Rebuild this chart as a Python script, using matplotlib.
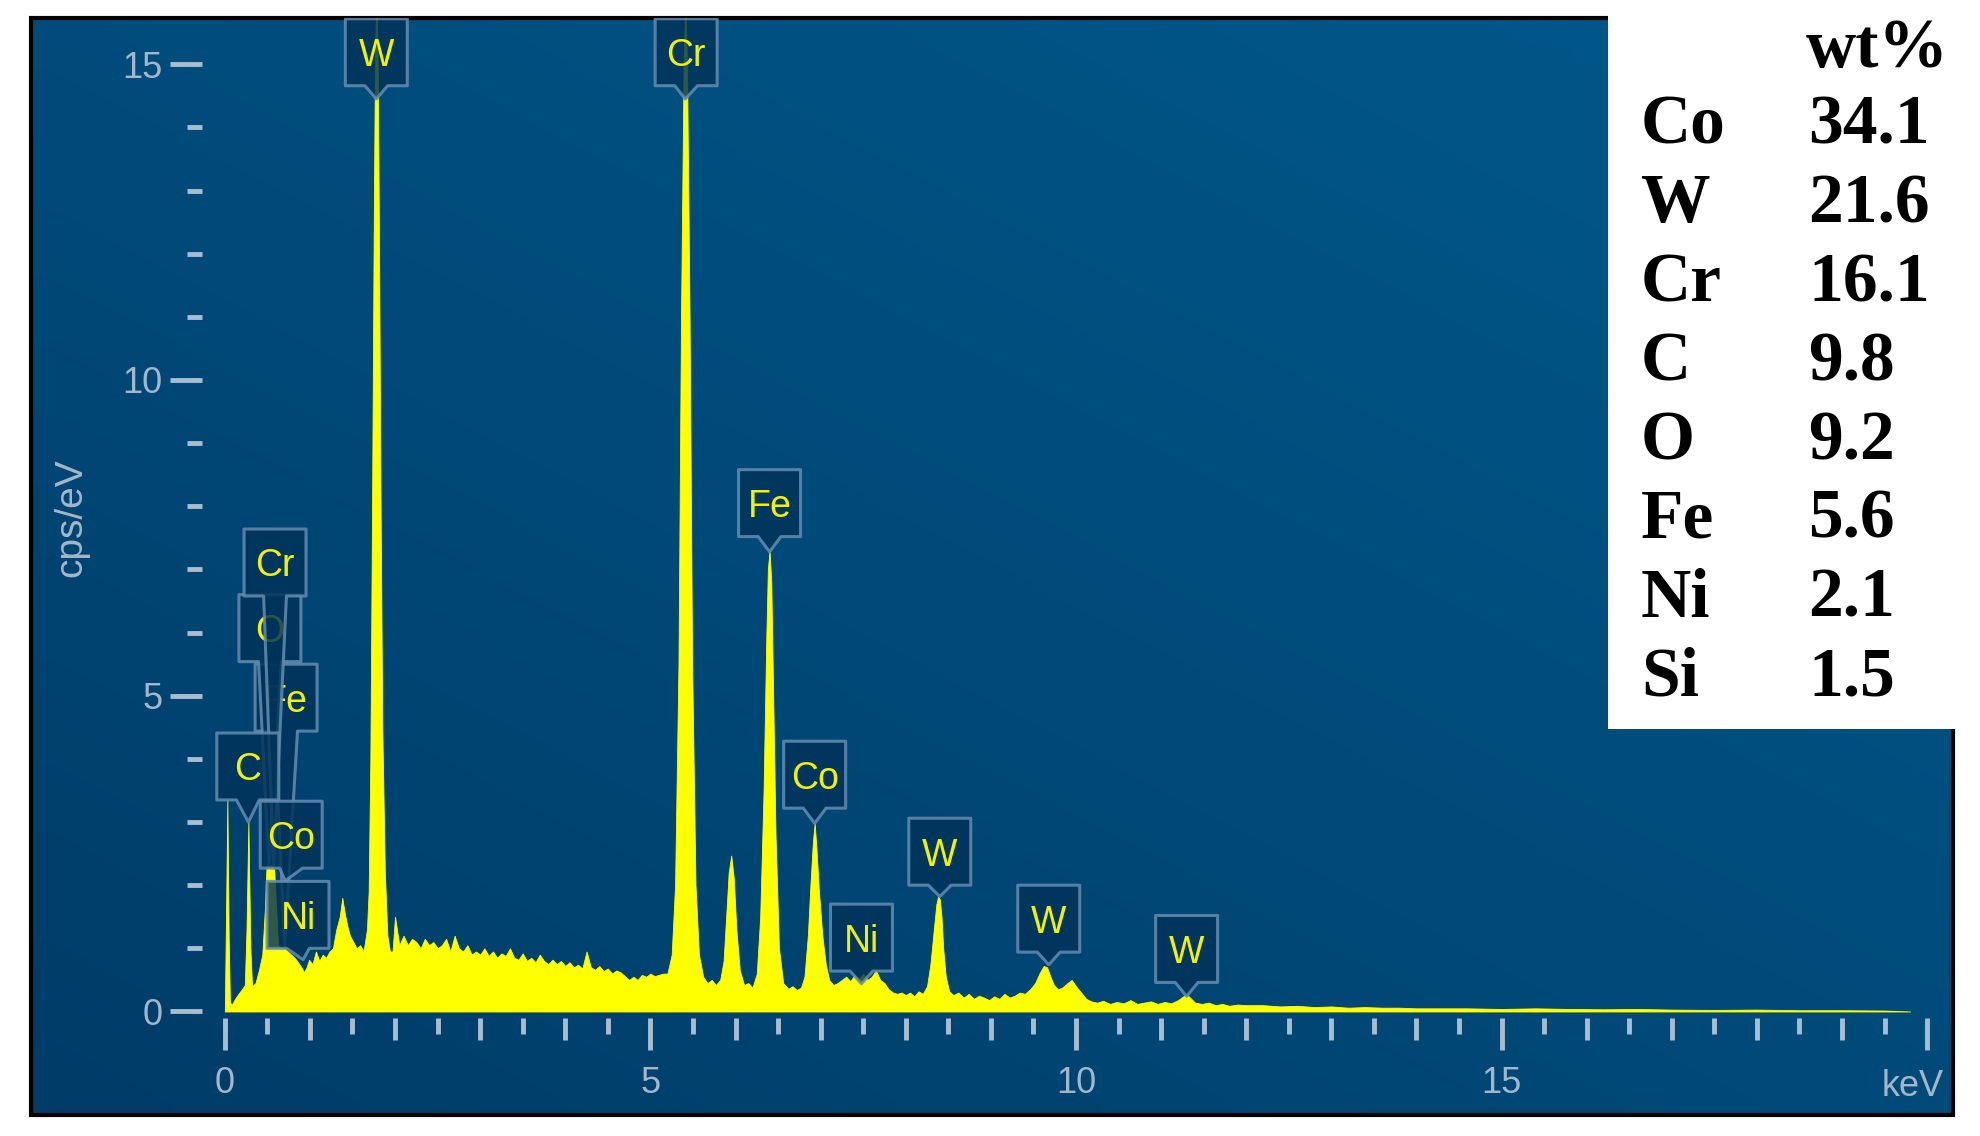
import numpy as np
import matplotlib
matplotlib.use("Agg")
import matplotlib.pyplot as plt
from matplotlib.patches import Polygon, Rectangle

# EDS spectrum, in segments (keV, cps/eV)
low_kev = [0.00, 0.015, 0.03, 0.045, 0.06, 0.08, 0.12, 0.16, 0.20, 0.235,
           0.255, 0.277, 0.30, 0.32, 0.36, 0.40, 0.44, 0.47, 0.49, 0.52,
           0.55, 0.58, 0.605, 0.625, 0.66, 0.70, 0.74, 0.78, 0.82, 0.86,
           0.90, 0.93, 0.96, 0.99, 1.03, 1.07, 1.11, 1.15, 1.19, 1.23,
           1.27, 1.31, 1.35, 1.38, 1.41, 1.44, 1.47, 1.51, 1.55, 1.59,
           1.63, 1.67, 1.69]
low_cps = [0.0, 1.6, 3.35, 1.2, 0.15, 0.1, 0.2, 0.28, 0.35, 0.42,
           1.3, 3.0, 1.0, 0.4, 0.45, 0.65, 0.9, 1.6, 2.3, 2.3,
           2.3, 2.25, 1.6, 1.05, 1.0, 1.0, 0.95, 0.9, 0.85, 0.78,
           0.7, 0.62, 0.7, 0.82, 0.75, 0.95, 0.8, 0.9, 0.85, 0.95,
           1.0, 1.3, 1.5, 1.8, 1.55, 1.35, 1.2, 1.1, 1.0, 1.05,
           0.95, 1.3, 1.9]

wma_kev = [1.71, 1.73, 1.75, 1.765, 1.78, 1.795, 1.81, 1.83, 1.85, 1.88, 1.91, 1.94]
wma_cps = [4.0, 8.0, 12.5, 15.2, 16.0, 15.2, 12.5, 8.0, 4.5, 2.2, 1.2, 0.95]

mid_kev = [1.97, 2.00, 2.05, 2.10, 2.15, 2.20, 2.25, 2.30, 2.35, 2.40,
           2.45, 2.50, 2.55, 2.60, 2.65, 2.70, 2.75, 2.80, 2.85, 2.90,
           2.95, 3.00, 3.05, 3.10, 3.15, 3.20, 3.25, 3.30, 3.35, 3.40,
           3.45, 3.50, 3.55, 3.60, 3.65, 3.70, 3.75, 3.80, 3.85, 3.90,
           3.95, 4.00, 4.05, 4.10, 4.15, 4.20, 4.25, 4.30, 4.35, 4.40,
           4.45, 4.50, 4.55, 4.60, 4.65, 4.70, 4.75, 4.80, 4.85, 4.90,
           4.95, 5.00, 5.05, 5.10, 5.15]
mid_cps = [0.95, 1.5, 1.05, 1.2, 1.05, 1.15, 1.1, 1.0, 1.15, 1.05,
           1.1, 1.0, 1.05, 1.15, 0.95, 1.2, 1.0, 0.95, 1.05, 0.9,
           0.95, 0.9, 1.0, 0.88, 0.95, 0.85, 0.92, 0.88, 1.0, 0.85,
           0.82, 0.92, 0.8, 0.85, 0.78, 0.9, 0.8, 0.75, 0.82, 0.75,
           0.8, 0.72, 0.78, 0.7, 0.74, 0.68, 0.95, 0.7, 0.66, 0.72,
           0.64, 0.68, 0.6, 0.65, 0.62, 0.56, 0.5, 0.55, 0.5, 0.58,
           0.55, 0.6, 0.56, 0.58, 0.6]

k_kev = [5.20, 5.25, 5.29, 5.33, 5.36, 5.39, 5.41, 5.43, 5.46, 5.49,
         5.53, 5.57, 5.62, 5.67, 5.72, 5.77, 5.82, 5.86, 5.89, 5.92,
         5.95, 5.98, 6.01, 6.05, 6.10, 6.15, 6.20, 6.25, 6.29, 6.33,
         6.36, 6.38, 6.40, 6.42, 6.44, 6.47, 6.51, 6.56, 6.62, 6.67,
         6.72, 6.77, 6.81, 6.85, 6.88, 6.91, 6.93, 6.95, 6.98, 7.02,
         7.06, 7.10, 7.15, 7.20, 7.25, 7.30, 7.35, 7.40, 7.45, 7.50,
         7.55, 7.60, 7.65, 7.70, 7.75, 7.80, 7.85, 7.90, 7.95, 8.00]
k_cps = [0.6, 0.9, 2.0, 5.5, 11.0, 15.0, 16.0, 15.0, 11.0, 5.5,
         2.0, 0.9, 0.55, 0.45, 0.5, 0.42, 0.5, 0.8, 1.5, 2.2,
         2.47, 2.1, 1.3, 0.65, 0.42, 0.45, 0.38, 0.6, 1.5, 3.5,
         5.8, 7.0, 7.3, 6.8, 5.2, 2.8, 1.0, 0.45, 0.36, 0.4,
         0.34, 0.38, 0.55, 1.2, 2.0, 2.7, 2.98, 2.6, 1.9, 1.2,
         0.75, 0.5, 0.42, 0.45, 0.5, 0.55, 0.48, 0.58, 0.52, 0.6,
         0.5, 0.55, 0.65, 0.5, 0.45, 0.35, 0.3, 0.28, 0.3, 0.26]

l_kev = [8.05, 8.10, 8.15, 8.20, 8.25, 8.29, 8.33, 8.36, 8.38, 8.40,
         8.42, 8.44, 8.47, 8.51, 8.56, 8.62, 8.68, 8.74, 8.80, 8.86,
         8.92, 8.98, 9.04, 9.10, 9.16, 9.22, 9.28, 9.34, 9.40, 9.46,
         9.52, 9.57, 9.62, 9.66, 9.70, 9.74, 9.79, 9.84, 9.90, 9.95,
         10.00, 10.06, 10.12, 10.18, 10.25, 10.32, 10.40, 10.48, 10.56, 10.64,
         10.72, 10.80, 10.88, 10.96, 11.04, 11.12, 11.20, 11.26, 11.30, 11.34,
         11.40, 11.48, 11.56, 11.64, 11.72, 11.80, 11.90, 12.00]
l_cps = [0.3, 0.24, 0.32, 0.28, 0.4, 0.75, 1.3, 1.7, 1.82, 1.78,
         1.5, 1.0, 0.55, 0.32, 0.26, 0.3, 0.22, 0.28, 0.2, 0.25,
         0.22, 0.18, 0.24, 0.2, 0.28, 0.22, 0.25, 0.3, 0.28, 0.35,
         0.45, 0.6, 0.72, 0.7, 0.55, 0.42, 0.35, 0.38, 0.45, 0.5,
         0.4, 0.3, 0.2, 0.16, 0.14, 0.17, 0.12, 0.15, 0.13, 0.18,
         0.12, 0.14, 0.16, 0.12, 0.15, 0.13, 0.18, 0.24, 0.27, 0.22,
         0.14, 0.12, 0.14, 0.1, 0.12, 0.09, 0.11, 0.1]

tail_kev = [12.2, 12.4, 12.6, 12.8, 13.0, 13.2, 13.4, 13.6, 13.8, 14.0,
            14.3, 14.6, 15.0, 15.4, 15.8, 16.2, 16.6, 17.0, 17.5, 18.0,
            18.5, 19.0, 19.5, 19.8]
tail_cps = [0.1, 0.08, 0.09, 0.07, 0.08, 0.06, 0.07, 0.06, 0.06, 0.05,
            0.05, 0.05, 0.04, 0.05, 0.04, 0.035, 0.04, 0.03, 0.025, 0.03,
            0.02, 0.02, 0.015, 0.0]

# peak tags: text, pointer tip (keV, cps), box centre keV, box bottom cps
tag_text = ["Fe", "O", "Cr", "C", "Co", "Ni",
            "W", "Cr", "Fe", "Co", "Ni", "W", "W", "W"]
tag_tip_kev = [0.705, 0.52, 0.573, 0.277, 0.71, 0.92,
               1.78, 5.41, 6.40, 6.93, 7.48, 8.40, 9.68, 11.30]
tag_tip_cps = [1.05, 2.3, 2.3, 3.0, 2.07, 0.82,
               14.45, 14.45, 7.28, 2.98, 0.44, 1.82, 0.74, 0.24]
tag_box_kev = [0.72, 0.53, 0.59, 0.27, 0.78, 0.86,
               1.78, 5.42, 6.40, 6.93, 7.48, 8.40, 9.68, 11.30]
tag_box_cps = [4.44, 5.54, 6.58, 3.35, 2.27, 1.00,
               14.66, 14.66, 7.52, 3.22, 0.64, 2.00, 0.94, 0.46]

# quantification table
elements = ["Co", "W", "Cr", "C", "O", "Fe", "Ni", "Si"]
wt_pct = [34.1, 21.6, 16.1, 9.8, 9.2, 5.6, 2.1, 1.5]

W_PX, H_PX = 1980, 1136
TICK_C = "#a9bdd0"
LABEL_C = "#a3b7cb"
SANS = ["Liberation Sans", "DejaVu Sans"]


def fx(px):
    return px / W_PX


def fy(py):
    return 1 - py / H_PX


def main():
    energy = np.concatenate([low_kev, wma_kev, mid_kev, k_kev, l_kev, tail_kev])
    cps = np.concatenate([low_cps, wma_cps, mid_cps, k_cps, l_cps, tail_cps])

    fig = plt.figure(figsize=(W_PX / 100, H_PX / 100), dpi=100, facecolor="white")

    # blue instrument panel with a soft diagonal gradient
    left, right, top, bottom = 31.5, 1953, 17.5, 1115
    bg = fig.add_axes([fx(left), fy(bottom), fx(right - left), (bottom - top) / H_PX])
    gx, gy = np.meshgrid(np.linspace(0, 1, 64), np.linspace(0, 1, 64))
    t = np.clip(0.55 * gx + 0.6 * gy, 0, 1)[..., None]
    c0 = np.array([0, 60, 104]) / 255
    c1 = np.array([0, 86, 136]) / 255
    bg.imshow(c0 + (c1 - c0) * t, extent=[0, 1, 0, 1], origin="lower",
              aspect="auto", interpolation="bicubic")
    bg.set_axis_off()
    bg.add_patch(Rectangle((0, 0), 1, 1, transform=bg.transAxes, fill=False,
                           ec="black", lw=3, clip_on=False))

    # spectrum axes
    ax_l, ax_r, ax_t, ax_b = 202, 1945, 17.5, 1017.8
    ax = fig.add_axes([fx(ax_l), fy(ax_b), fx(ax_r - ax_l), (ax_b - ax_t) / H_PX])
    ax.set_facecolor("none")
    ax.set_xlim(-0.268, 20.21)
    ax.set_ylim(-0.1, 15.74)
    for s in ax.spines.values():
        s.set_visible(False)

    ax.fill_between(energy, cps, 0, color="#ffff00", lw=0.6, zorder=2)

    # ticks
    ax.set_xticks([0, 5, 10, 15, 20])
    ax.set_xticklabels(["0", "5", "10", "15", ""])
    ax.set_xticks(list(range(0, 21)), minor=True)
    ax.tick_params(axis="x", which="major", length=23, width=3.5, color=TICK_C,
                   pad=12, labelsize=26, labelcolor=LABEL_C)
    ax.tick_params(axis="x", which="minor", length=16, width=3.5, color=TICK_C)
    half = ax.secondary_xaxis("bottom")
    half.set_xticks([k + 0.5 for k in range(20)])
    half.tick_params(length=11.5, width=3.5, color=TICK_C, labelbottom=False)
    half.spines["bottom"].set_visible(False)

    ax.set_yticks([0, 5, 10, 15])
    ax.set_yticks(list(range(0, 16)), minor=True)
    ax.tick_params(axis="y", which="major", length=23, width=3.5, color=TICK_C,
                   pad=5.5, labelsize=26, labelcolor=LABEL_C)
    ax.tick_params(axis="y", which="minor", length=11, width=3.5, color=TICK_C)
    for lab in ax.get_xticklabels() + ax.get_yticklabels():
        lab.set_family(SANS)

    fig.text(fx(71), fy(518), "cps/eV", rotation=90, ha="center", va="center",
             fontsize=28, color=LABEL_C, family=SANS)
    fig.text(fx(1944), fy(1083), "keV", ha="right", va="center_baseline",
             fontsize=26, color=LABEL_C, family=SANS)

    # peak tags: box with a pointer to the line
    hw, bh, pw = 0.364, 1.06, 0.134
    for i, txt in enumerate(tag_text):
        bx, by = tag_box_kev[i], tag_box_cps[i]
        verts = [(bx - hw, by), (bx - pw, by), (tag_tip_kev[i], tag_tip_cps[i]),
                 (bx + pw, by), (bx + hw, by), (bx + hw, by + bh), (bx - hw, by + bh)]
        z = 3 + i * 0.1
        ax.add_patch(Polygon(verts, closed=True, fc=(0.0, 0.2, 0.35, 0.82),
                             ec=(0.40, 0.55, 0.69, 0.85), lw=2.2,
                             joinstyle="round", zorder=z))
        ax.text(bx, by + bh / 2, txt, ha="center", va="center_baseline",
                fontsize=27, color="#f2f200", family=SANS, zorder=z + 0.05)

    # wt% table in the top-right corner
    fig.add_artist(Rectangle((fx(1607.6), fy(728.6)), fx(1958 - 1607.6),
                             (728.6 - 14) / H_PX, transform=fig.transFigure,
                             fc="white", ec="none", zorder=5))
    serif = dict(family=["Liberation Serif", "DejaVu Serif"], weight="bold",
                 fontsize=50, color="black", zorder=6)
    fig.text(fx(1806), fy(67), "wt%", ha="left", va="baseline", **serif)
    for i, (el, v) in enumerate(zip(elements, wt_pct)):
        base = 143.5 + i * 78.9
        fig.text(fx(1641), fy(base), el, ha="left", va="baseline", **serif)
        fig.text(fx(1808), fy(base), f"{v:.1f}", ha="left", va="baseline", **serif)

    fig.savefig("out.png", dpi=100, facecolor="white")
    plt.close(fig)


if __name__ == "__main__":
    main()
